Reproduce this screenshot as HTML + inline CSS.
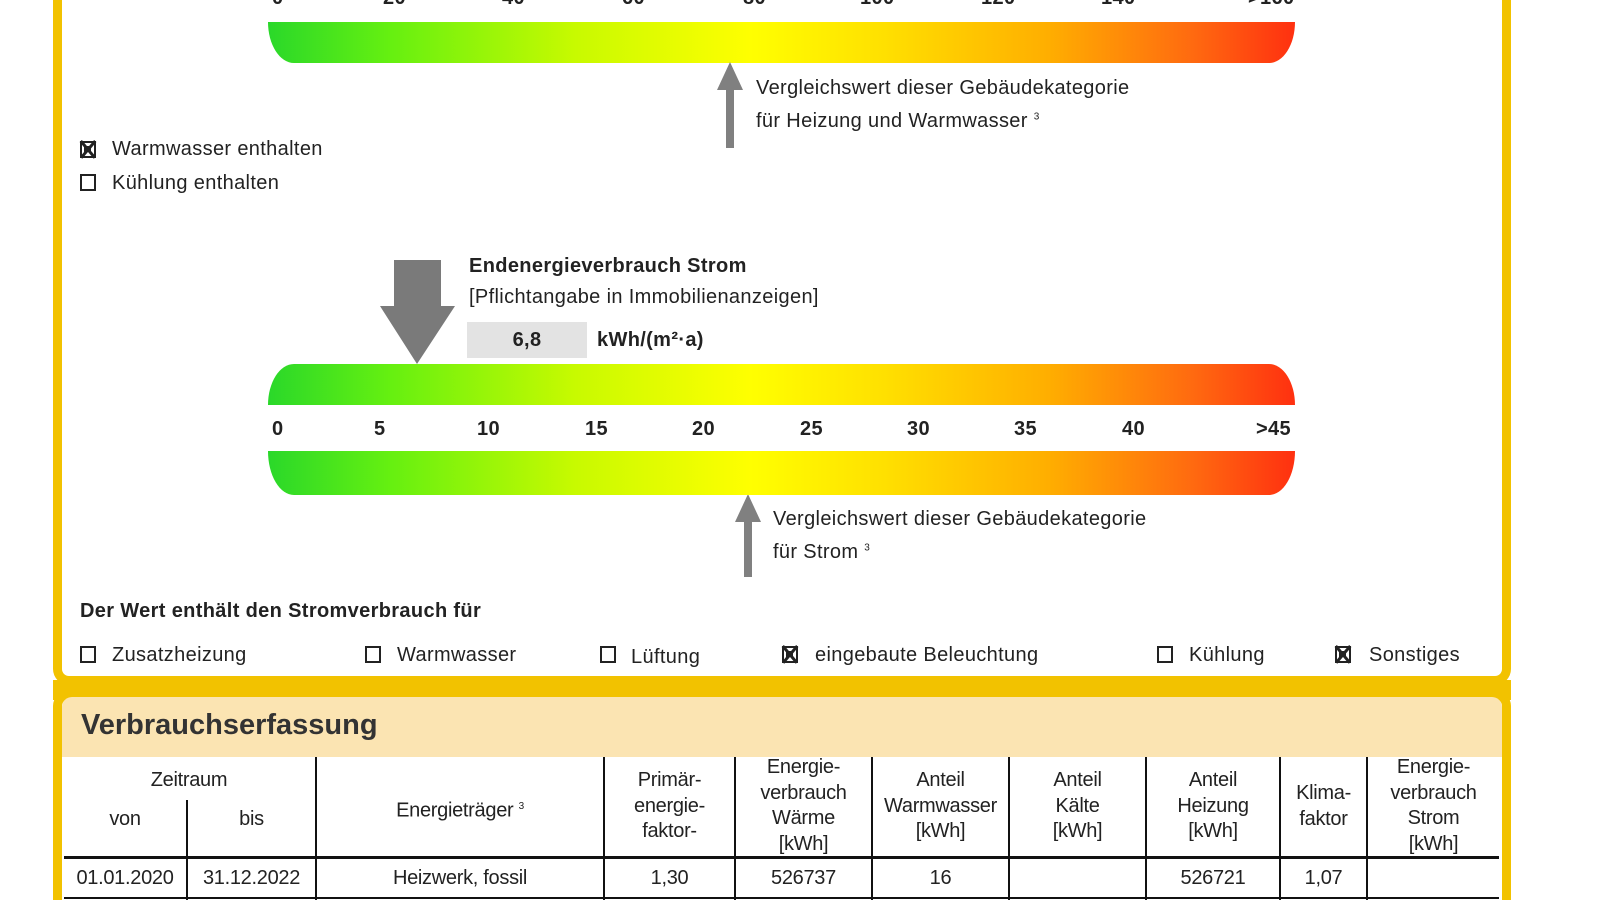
<!DOCTYPE html>
<html><head><meta charset="utf-8"><style>
*{margin:0;padding:0;box-sizing:border-box}
html,body{width:1600px;height:900px;overflow:hidden;background:#fff}
#w{position:relative;width:1600px;height:900px;overflow:hidden;font-family:"Liberation Sans",Arial,sans-serif;color:#222}
.a{position:absolute;white-space:nowrap;line-height:1}
.t{font-size:20px;letter-spacing:0.35px}
.b{font-weight:bold}
.bar{position:absolute;left:268px;width:1027px;background:linear-gradient(90deg,#2ad82a 0%,#66f010 12%,#c8fa00 30%,#ffff00 47%,#ffe000 60%,#ffae00 76%,#ff6a10 90%,#ff3010 100%)}
.cb{position:absolute;width:16px;height:17px;border:2.5px solid #222;background:#fff}
.cx::before,.cx::after{content:"";position:absolute;left:-5px;top:5px;width:22px;height:2.5px;background:#222;transform:rotate(50deg)}
.cx::after{transform:rotate(-50deg)}
.cx span{position:absolute;left:2px;top:3px;width:7px;height:6px;border:2px solid #222}
.vl{position:absolute;width:2px;background:#111}
.hc{position:absolute;text-align:center;font-size:20px;letter-spacing:-0.3px;line-height:25.5px}
</style></head><body><div id="w">
<div style="position:absolute;left:53px;top:0;width:1458px;height:685px;border:9px solid #f2c200;border-top:0;border-radius:0 0 16px 16px"></div>
<div style="position:absolute;left:53px;top:680px;width:1458px;height:20px;background:#f2c200"></div>
<div style="position:absolute;left:53px;top:690px;width:1458px;height:210px;border:9px solid #f2c200;border-bottom:0;border-radius:16px 16px 0 0;background:#fff"></div>
<div style="position:absolute;left:62px;top:697px;width:1440px;height:60px;background:#fbe4b2;border-radius:10px 10px 0 0"></div>
<div class="a b" style="left:81px;top:711px;font-size:29px;color:#333">Verbrauchserfassung</div>

<div class="a b t" style="top:-12px;left:272px">0</div>
<div class="a b t" style="top:-12px;left:383px">20</div>
<div class="a b t" style="top:-12px;left:502px">40</div>
<div class="a b t" style="top:-12px;left:622px">60</div>
<div class="a b t" style="top:-12px;left:743px">80</div>
<div class="a b t" style="top:-12px;left:860px">100</div>
<div class="a b t" style="top:-12px;left:981px">120</div>
<div class="a b t" style="top:-12px;left:1101px">140</div>
<div class="a b t" style="top:-12px;left:1248px">&gt;160</div>

<div class="bar" style="top:22px;height:41px;border-radius:0 0 26px 26px/0 0 41px 41px"></div>

<svg style="position:absolute;left:0;top:0" width="1600" height="900">
<polygon points="730,62 717,90 726,90 726,148 734,148 734,90 743,90" fill="#808080"/>
<polygon points="748,494 735,522 744,522 744,577 752,577 752,522 761,522" fill="#808080"/>
<polygon points="394,260 441,260 441,306 455,306 417,364 380,306 394,306" fill="#7a7a7a"/>
</svg>
<div class="a t" style="left:756px;top:78px">Vergleichswert dieser Gebäudekategorie</div>
<div class="a t" style="left:756px;top:111px">für Heizung und Warmwasser <sup style="font-size:10px">3</sup></div>

<div class="cb cx" style="left:80px;top:141px"><span></span></div>
<div class="a t" style="left:112px;top:139px">Warmwasser enthalten</div>
<div class="cb" style="left:80px;top:174px"></div>
<div class="a t" style="left:112px;top:173px">Kühlung enthalten</div>

<div class="a b t" style="left:469px;top:256px">Endenergieverbrauch Strom</div>
<div class="a t" style="left:469px;top:287px">[Pflichtangabe in Immobilienanzeigen]</div>
<div style="position:absolute;left:467px;top:322px;width:120px;height:36px;background:#e3e3e3"></div>
<div class="a b t" style="left:467px;width:120px;text-align:center;top:330px">6,8</div>
<div class="a b t" style="left:597px;top:330px">kWh/(m²·a)</div>

<div class="bar" style="top:364px;height:41px;border-radius:26px 26px 0 0/41px 41px 0 0"></div>
<div class="a b t" style="top:419px;left:272px">0</div>
<div class="a b t" style="top:419px;left:374px">5</div>
<div class="a b t" style="top:419px;left:477px">10</div>
<div class="a b t" style="top:419px;left:585px">15</div>
<div class="a b t" style="top:419px;left:692px">20</div>
<div class="a b t" style="top:419px;left:800px">25</div>
<div class="a b t" style="top:419px;left:907px">30</div>
<div class="a b t" style="top:419px;left:1014px">35</div>
<div class="a b t" style="top:419px;left:1122px">40</div>
<div class="a b t" style="top:419px;left:1256px">&gt;45</div>

<div class="bar" style="top:451px;height:44px;border-radius:0 0 26px 26px/0 0 44px 44px"></div>
<div class="a t" style="left:773px;top:509px">Vergleichswert dieser Gebäudekategorie</div>
<div class="a t" style="left:773px;top:542px">für Strom <sup style="font-size:10px">3</sup></div>

<div class="a b t" style="left:80px;top:601px">Der Wert enthält den Stromverbrauch für</div>
<div class="cb" style="left:80px;top:646px"></div><div class="a t" style="left:112px;top:645px">Zusatzheizung</div>
<div class="cb" style="left:365px;top:646px"></div><div class="a t" style="left:397px;top:645px">Warmwasser</div>
<div class="cb" style="left:600px;top:646px"></div><div class="a t" style="left:631px;top:647px">Lüftung</div>
<div class="cb cx" style="left:782px;top:646px"><span></span></div><div class="a t" style="left:815px;top:645px">eingebaute Beleuchtung</div>
<div class="cb" style="left:1157px;top:646px"></div><div class="a t" style="left:1189px;top:645px">Kühlung</div>
<div class="cb cx" style="left:1335px;top:646px"><span></span></div><div class="a t" style="left:1369px;top:645px">Sonstiges</div>

<div style="position:absolute;left:64px;top:856px;width:1435px;height:3px;background:#111"></div>
<div style="position:absolute;left:64px;top:897px;width:1435px;height:2px;background:#111"></div>
<div class="vl" style="left:186px;top:800px;height:100px"></div>
<div class="vl" style="left:315px;top:757px;height:143px"></div>
<div class="vl" style="left:603px;top:757px;height:143px"></div>
<div class="vl" style="left:734px;top:757px;height:143px"></div>
<div class="vl" style="left:871px;top:757px;height:143px"></div>
<div class="vl" style="left:1008px;top:757px;height:143px"></div>
<div class="vl" style="left:1145px;top:757px;height:143px"></div>
<div class="vl" style="left:1279px;top:757px;height:143px"></div>
<div class="vl" style="left:1366px;top:757px;height:143px"></div>

<div class="hc" style="left:64px;width:250px;top:768px">Zeitraum</div>
<div class="hc" style="left:64px;width:122px;top:807px">von</div>
<div class="hc" style="left:188px;width:127px;top:807px">bis</div>
<div class="hc" style="left:317px;width:286px;top:794px">Energieträger <sup style="font-size:10px">3</sup></div>
<div class="hc" style="left:605px;width:129px;top:768px">Primär-<br>energie-<br>faktor-</div>
<div class="hc" style="left:736px;width:135px;top:755px">Energie-<br>verbrauch<br>Wärme<br>[kWh]</div>
<div class="hc" style="left:873px;width:135px;top:768px">Anteil<br>Warmwasser<br>[kWh]</div>
<div class="hc" style="left:1010px;width:135px;top:768px">Anteil<br>Kälte<br>[kWh]</div>
<div class="hc" style="left:1147px;width:132px;top:768px">Anteil<br>Heizung<br>[kWh]</div>
<div class="hc" style="left:1281px;width:85px;top:781px">Klima-<br>faktor</div>
<div class="hc" style="left:1368px;width:131px;top:755px">Energie-<br>verbrauch<br>Strom<br>[kWh]</div>

<div class="hc" style="left:64px;width:122px;top:866px">01.01.2020</div>
<div class="hc" style="left:188px;width:127px;top:866px">31.12.2022</div>
<div class="hc" style="left:317px;width:286px;top:866px">Heizwerk, fossil</div>
<div class="hc" style="left:605px;width:129px;top:866px">1,30</div>
<div class="hc" style="left:736px;width:135px;top:866px">526737</div>
<div class="hc" style="left:873px;width:135px;top:866px">16</div>
<div class="hc" style="left:1147px;width:132px;top:866px">526721</div>
<div class="hc" style="left:1281px;width:85px;top:866px">1,07</div>
</div></body></html>
